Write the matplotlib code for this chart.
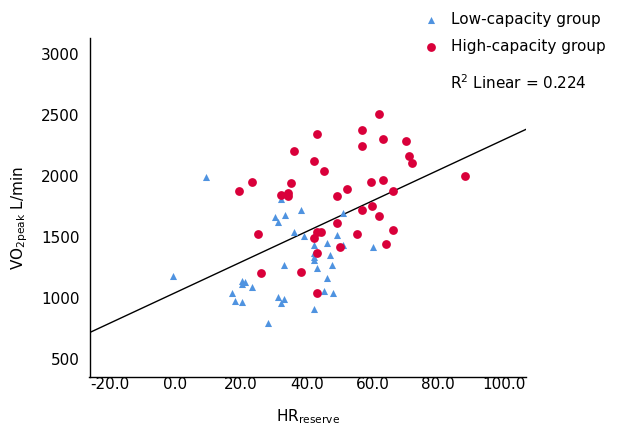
import matplotlib
matplotlib.use("Agg")
import matplotlib.pyplot as plt
import numpy as np

plt.rcParams['font.family'] = ['DejaVu Sans']
plt.rcParams['axes.unicode_minus'] = False

# Data
low_x = [-0.8, 9.2, 17.2, 18.1, 20.2, 20.2, 21.1, 20.2, 23.3, 28.1, 31.2, 33.0, 32.1, 33.0,
         36.1, 39.1, 32.1, 30.3, 33.3, 31.2, 38.2, 42.2, 42.2, 46.1, 49.2, 51.0, 51.0, 42.2,
         42.2, 42.2, 47.0, 43.1, 47.7, 46.1, 45.2, 47.9, 42.2, 60.2]
low_y = [1180, 1992, 1041, 975, 967, 1139, 1131, 1115, 1090, 795, 1008, 992, 959, 1271,
         1541, 1508, 1812, 1664, 1680, 1623, 1721, 1516, 1434, 1451, 1516, 1697, 1434, 1369,
         1336, 1312, 1352, 1246, 1271, 1164, 1057, 1041, 910, 1418]

high_x = [36.1, 23.3, 19.3, 35.2, 32.1, 34.2, 34.2, 25.1, 62.0, 43.1, 56.7, 63.2, 70.2,
          56.7, 42.2, 45.2, 59.5, 63.2, 52.2, 49.2, 66.3, 56.7, 59.8, 71.1, 72.0, 88.2,
          62.0, 49.2, 43.1, 44.3, 42.2, 50.1, 55.3, 66.3, 64.1, 43.1, 26.0, 38.2, 43.1]
high_y = [2205, 1951, 1877, 1943, 1844, 1861, 1836, 1525, 2508, 2344, 2377, 2303, 2287,
          2246, 2123, 2041, 1951, 1967, 1893, 1836, 1877, 1721, 1754, 2164, 2107, 2000,
          1672, 1615, 1541, 1541, 1492, 1418, 1525, 1557, 1443, 1369, 1205, 1213, 1041]

fit_intercept = 1044.0
fit_slope = 12.53
r2_value = 0.224

x_ticks = [-20, 0, 20, 40, 60, 80, 100]
y_ticks = [500, 1000, 1500, 2000, 2500, 3000]

blue = '#4F93E0'
red = '#D9003A'
fs = 11.0

fig = plt.figure(figsize=(6.19, 4.28), dpi=100)
ax = fig.add_axes([89.5/619, 51/428, (526-89.5)/619, (377-38)/428])

ax.scatter(low_x, low_y, marker='^', s=26, color=blue, linewidths=0, label='Low-capacity group', zorder=3)
ax.scatter(high_x, high_y, marker='o', s=40, color=red, linewidths=0, label='High-capacity group', zorder=3)

xlim = (-26.2, 106.8)
ylim = (352, 3131)
xs = np.array(xlim)
ax.plot(xs, fit_intercept + fit_slope * xs, color='black', lw=1.0, zorder=2)

ax.set_xlim(*xlim)
ax.set_ylim(*ylim)
ax.set_xticks(x_ticks)
ax.set_xticklabels([f"{v:.1f}" for v in x_ticks])
ax.set_yticks(y_ticks)
ax.set_yticklabels([str(v) for v in y_ticks])
ax.tick_params(axis='both', length=0, labelsize=fs)
ax.tick_params(axis='x', pad=0)
ax.tick_params(axis='y', pad=7)
for s in ['top', 'right']:
    ax.spines[s].set_visible(False)
for s in ['left', 'bottom']:
    ax.spines[s].set_linewidth(1.0)

ax.set_xlabel(r'HR$_{\mathregular{reserve}}$', fontsize=fs)
ax.xaxis.set_label_coords(0.5, -0.088)
ax.set_ylabel(r'VO$_{\mathregular{2peak}}$ L/min', fontsize=fs)
ax.yaxis.set_label_coords(-0.136, 0.47)

leg = fig.legend(loc='upper left', bbox_to_anchor=(425/619, 1 - 12/428), frameon=False,
                 fontsize=fs, handlelength=0.8, handletextpad=0.9, borderpad=0,
                 borderaxespad=0, labelspacing=0.8, markerscale=1.0)

fig.text(450/619, 1 - 83/428, r'R$^{2}$ Linear = ' + f'{r2_value:.3f}', fontsize=fs,
         va='center', ha='left')

fig.savefig('out.png', dpi=100)
